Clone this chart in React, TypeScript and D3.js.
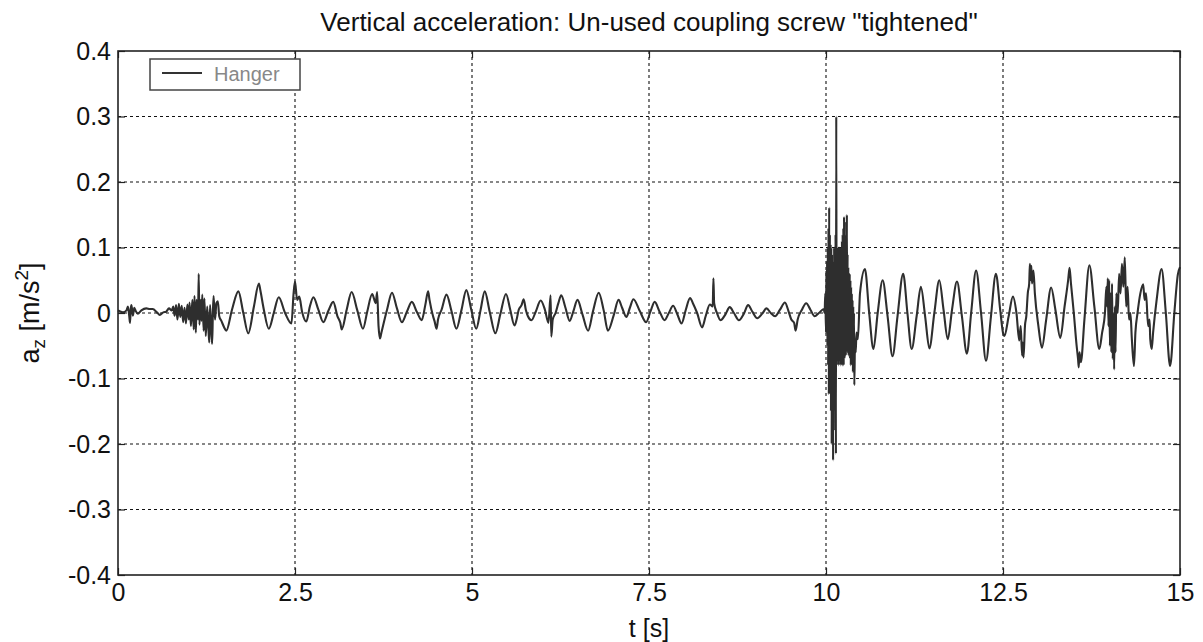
import React, { useRef, useEffect } from 'react'
import * as d3 from 'd3'

// [t (s), a_z (m/s^2)], segment by segment
const quietStart: [number, number][] = [
  [0.0, 0.004], [0.07, 0.001], [0.12, 0.004], [0.14, 0.01], [0.16, -0.006], [0.17, -0.015],
  [0.18, 0.006], [0.19, 0.012], [0.21, -0.004], [0.23, 0.008], [0.25, 0.003], [0.28, -0.001],
  [0.33, 0.004], [0.4, 0.007], [0.45, 0.006], [0.49, 0.006], [0.55, 0.001], [0.59, -0.003],
  [0.64, 0.001], [0.68, 0.002], [0.72, 0.007], [0.76, 0.004],
]

const onsetNoise: [number, number][] = [
  [0.78, 0.01], [0.8, -0.004], [0.82, 0.012], [0.84, -0.01], [0.86, 0.014], [0.88, -0.006],
  [0.9, 0.011], [0.92, -0.014], [0.94, 0.008], [0.96, -0.016], [0.98, 0.013], [1.0, -0.01],
  [1.01, 0.016], [1.03, -0.02], [1.05, 0.02], [1.07, -0.025], [1.08, 0.026], [1.1, -0.03],
  [1.11, 0.02], [1.13, -0.01], [1.14, 0.06], [1.15, -0.018], [1.17, 0.02], [1.18, -0.012],
  [1.19, 0.028], [1.21, -0.027], [1.22, 0.022], [1.24, -0.035], [1.26, 0.01], [1.28, -0.03],
  [1.29, -0.045], [1.3, 0.012], [1.32, -0.03], [1.33, -0.047], [1.34, 0.0], [1.35, 0.026],
  [1.37, -0.01], [1.39, 0.015], [1.41, 0.018], [1.43, -0.005], [1.46, -0.012], [1.5, -0.022],
  [1.53, -0.027],
]

const steadyOscillation: [number, number][] = [
  [1.61, 0.005], [1.7, 0.033], [1.77, 0.0], [1.84, -0.031], [1.92, 0.01], [1.99, 0.045],
  [2.01, 0.035], [2.06, 0.005], [2.13, -0.024], [2.2, 0.0], [2.27, 0.024], [2.36, 0.0],
  [2.45, -0.016], [2.48, 0.03], [2.5, 0.048], [2.53, 0.02], [2.56, 0.025], [2.6, 0.002],
  [2.66, -0.013], [2.71, 0.01], [2.76, 0.024], [2.83, 0.005], [2.9, -0.014], [2.97, 0.003],
  [3.04, 0.017], [3.1, -0.005], [3.14, -0.015], [3.16, -0.025], [3.23, 0.005], [3.3, 0.032],
  [3.38, 0.004], [3.46, -0.024], [3.52, 0.002], [3.59, 0.029], [3.64, 0.015], [3.66, 0.032],
  [3.68, -0.02], [3.7, -0.039], [3.72, -0.03], [3.8, 0.005], [3.87, 0.031], [3.94, 0.007],
  [4.01, -0.014], [4.08, 0.002], [4.15, 0.017], [4.22, 0.002], [4.29, -0.011], [4.34, 0.012],
  [4.38, 0.033], [4.4, 0.02], [4.45, -0.005], [4.47, -0.012], [4.5, -0.024], [4.52, -0.01],
  [4.57, 0.005], [4.64, 0.028], [4.71, 0.003], [4.78, -0.024], [4.85, 0.004], [4.92, 0.035],
  [4.99, 0.005], [5.06, -0.024], [5.12, 0.004], [5.18, 0.033], [5.25, 0.002], [5.33, -0.031],
  [5.4, -0.002], [5.48, 0.029], [5.54, 0.005], [5.6, -0.019], [5.63, -0.01], [5.66, 0.005],
  [5.7, 0.012], [5.73, 0.021], [5.76, 0.005], [5.79, -0.005], [5.84, -0.011], [5.9, 0.002],
  [5.97, 0.019], [6.03, 0.005], [6.08, -0.015], [6.11, 0.027], [6.12, -0.036], [6.14, -0.01],
  [6.18, 0.0], [6.22, 0.015], [6.26, 0.027], [6.32, 0.008], [6.38, -0.012], [6.43, 0.002],
  [6.49, 0.02], [6.56, -0.002], [6.64, -0.027], [6.71, 0.003], [6.79, 0.031], [6.86, 0.004],
  [6.92, -0.027], [7.0, -0.004], [7.07, 0.02], [7.12, 0.008], [7.18, -0.006], [7.23, 0.008],
  [7.28, 0.021], [7.37, 0.003], [7.46, -0.014], [7.52, 0.002], [7.58, 0.017], [7.65, 0.002],
  [7.72, -0.011], [7.78, 0.0], [7.84, 0.011], [7.9, -0.002], [7.96, -0.016], [8.02, 0.005],
  [8.08, 0.023], [8.12, 0.015], [8.18, 0.0], [8.25, -0.022], [8.3, -0.005], [8.36, 0.013],
  [8.4, 0.01], [8.41, 0.053], [8.42, 0.015], [8.46, 0.0], [8.51, -0.011], [8.58, -0.002],
  [8.64, 0.009], [8.7, 0.0], [8.77, -0.011], [8.84, -0.001], [8.9, 0.012], [8.96, 0.002],
  [9.03, -0.008], [9.1, -0.001], [9.16, 0.007], [9.22, 0.0], [9.28, -0.005], [9.35, 0.005],
  [9.42, 0.016], [9.47, 0.003], [9.51, -0.01], [9.55, -0.015], [9.57, -0.027], [9.6, -0.01],
  [9.66, 0.005], [9.72, 0.015], [9.78, 0.005], [9.84, -0.005], [9.9, 0.0], [9.97, 0.006],
]

const impactBurst: [number, number][] = [
  [9.98, 0.0], [9.99, 0.03], [10.0, -0.03], [10.005, 0.065], [10.01, -0.02], [10.015, 0.08],
  [10.02, -0.05], [10.025, 0.1], [10.03, -0.08], [10.035, 0.13], [10.04, -0.124], [10.045, 0.161],
  [10.05, -0.11], [10.055, 0.12], [10.06, -0.124], [10.065, 0.105], [10.07, -0.15], [10.075, 0.1],
  [10.08, -0.2], [10.085, 0.09], [10.09, -0.17], [10.095, 0.08], [10.1, -0.225], [10.105, 0.07],
  [10.11, -0.15], [10.115, 0.1], [10.12, -0.14], [10.125, 0.09], [10.13, -0.18], [10.135, 0.12],
  [10.14, -0.215], [10.145, 0.3], [10.15, -0.08], [10.155, 0.1], [10.16, -0.075], [10.165, 0.09],
  [10.17, -0.07], [10.175, 0.1], [10.18, -0.08], [10.185, 0.095], [10.19, -0.07], [10.195, 0.1],
  [10.2, -0.075], [10.205, 0.09], [10.21, -0.08], [10.215, 0.1], [10.22, -0.07], [10.225, 0.11],
  [10.23, -0.08], [10.235, 0.12], [10.24, -0.075], [10.245, 0.13], [10.25, -0.08], [10.255, 0.147],
  [10.26, -0.07], [10.265, 0.11], [10.27, -0.06], [10.275, 0.12], [10.28, -0.065], [10.285, 0.14],
  [10.29, -0.06], [10.295, 0.15], [10.3, -0.06], [10.305, 0.09], [10.31, -0.05], [10.315, 0.07],
  [10.32, -0.065], [10.325, 0.06], [10.33, -0.06], [10.335, 0.06], [10.34, -0.07], [10.345, 0.05],
  [10.35, -0.08], [10.355, 0.04], [10.36, -0.07], [10.365, 0.03], [10.37, -0.08], [10.375, 0.02],
  [10.38, -0.09], [10.385, 0.01], [10.39, -0.08], [10.395, 0.0], [10.4, -0.11], [10.41, -0.04],
  [10.42, -0.06], [10.43, -0.03],
]

const afterImpact: [number, number][] = [
  [10.45, -0.04], [10.48, 0.03], [10.55, 0.067], [10.61, 0.0], [10.67, -0.055], [10.73, 0.0],
  [10.8, 0.05], [10.87, -0.005], [10.94, -0.066], [11.01, -0.005], [11.09, 0.06], [11.15, 0.0],
  [11.21, -0.055], [11.28, -0.005], [11.34, 0.04], [11.4, -0.005], [11.46, -0.054], [11.53, 0.0],
  [11.6, 0.05], [11.66, 0.005], [11.72, -0.04], [11.78, 0.005], [11.85, 0.048], [11.92, -0.005],
  [11.99, -0.062], [12.05, 0.0], [12.12, 0.065], [12.19, 0.0], [12.26, -0.073], [12.33, -0.005],
  [12.4, 0.06], [12.46, 0.005], [12.5, -0.03], [12.52, -0.035], [12.58, -0.005], [12.64, 0.025],
  [12.69, 0.0], [12.73, -0.042], [12.75, -0.02], [12.77, -0.065], [12.78, -0.045], [12.79, -0.068],
  [12.81, -0.02], [12.83, -0.004], [12.85, 0.03], [12.87, 0.045], [12.88, 0.075], [12.89, 0.05],
  [12.9, 0.072], [12.91, 0.045], [12.93, 0.065], [12.95, 0.03], [13.0, -0.02], [13.05, -0.053],
  [13.11, -0.01], [13.18, 0.039], [13.24, 0.005], [13.31, -0.038], [13.37, 0.01], [13.42, 0.05],
  [13.44, 0.069], [13.46, 0.045], [13.5, 0.0], [13.54, -0.05], [13.56, -0.07], [13.57, -0.083],
  [13.58, -0.06], [13.6, -0.075], [13.65, -0.01], [13.72, 0.073], [13.79, 0.01], [13.86, -0.055],
  [13.9, -0.03], [13.94, 0.0], [13.96, 0.04], [13.97, 0.01], [13.98, 0.053], [13.99, -0.02],
  [14.0, 0.05], [14.01, -0.05], [14.02, 0.03], [14.03, -0.06], [14.04, 0.045], [14.05, -0.07],
  [14.06, 0.0], [14.07, -0.086], [14.08, 0.01], [14.09, -0.06], [14.1, 0.03], [14.12, 0.0],
  [14.14, 0.06], [14.16, 0.03], [14.18, 0.075], [14.2, 0.04], [14.22, 0.085], [14.24, 0.01],
  [14.26, 0.04], [14.28, -0.01], [14.3, 0.0], [14.32, -0.04], [14.35, -0.081], [14.37, -0.03],
  [14.4, 0.0], [14.44, 0.03], [14.48, 0.044], [14.5, 0.02], [14.52, 0.03], [14.55, -0.02],
  [14.57, -0.01], [14.58, -0.04], [14.6, -0.055], [14.62, -0.03], [14.67, 0.02], [14.74, 0.067],
  [14.8, 0.0], [14.86, -0.081], [14.92, 0.0], [14.97, 0.059], [15.0, 0.07],
]

const xTicks = [0, 2.5, 5, 7.5, 10, 12.5, 15]
const yTicks = [-0.4, -0.3, -0.2, -0.1, 0, 0.1, 0.2, 0.3, 0.4]
const seriesName = 'Hanger'
const title = 'Vertical acceleration: Un-used coupling screw "tightened"'

const FONT = '"Liberation Sans", Arial, Helvetica, sans-serif'

export default function App() {
  const svgRef = useRef<SVGSVGElement>(null)

  useEffect(() => {
    const width = 1203
    const height = 642
    const margin = { top: 51, right: 23, bottom: 67, left: 118 }
    const svg = d3.select(svgRef.current)
    svg.selectAll('*').remove()

    const x = d3.scaleLinear().domain([0, 15]).range([margin.left, width - margin.right])
    const y = d3.scaleLinear().domain([-0.4, 0.4]).range([height - margin.bottom, margin.top])
    const pw = width - margin.left - margin.right
    const ph = height - margin.top - margin.bottom

    svg.append('rect').attr('width', width).attr('height', height).attr('fill', '#fff')

    // dotted grid
    const grid = svg.append('g').attr('stroke', '#111').attr('stroke-width', 1.1).attr('stroke-dasharray', '3,3')
    grid.selectAll('.gx').data(xTicks.slice(1, -1)).join('line')
      .attr('x1', d => x(d)).attr('x2', d => x(d)).attr('y1', margin.top).attr('y2', margin.top + ph)
    grid.selectAll('.gy').data(yTicks.slice(1, -1)).join('line')
      .attr('y1', d => y(d)).attr('y2', d => y(d)).attr('x1', margin.left).attr('x2', margin.left + pw)

    // signal
    const data = [...quietStart, ...onsetNoise, ...steadyOscillation, ...impactBurst, ...afterImpact]
    const line = d3.line<[number, number]>().x(d => x(d[0])).y(d => y(d[1])).curve(d3.curveMonotoneX)
    svg.append('path').datum(data).attr('d', line)
      .attr('fill', 'none').attr('stroke', '#2e2e2e').attr('stroke-width', 2.1).attr('stroke-linejoin', 'round')

    // axes with inward ticks
    const fmt = (d: d3.NumberValue) => String(d)
    const gx = svg.append('g').attr('transform', `translate(0,${margin.top + ph})`)
      .call(d3.axisBottom(x).tickValues(xTicks).tickSize(-7).tickPadding(8).tickFormat(fmt))
    const gy = svg.append('g').attr('transform', `translate(${margin.left},0)`)
      .call(d3.axisLeft(y).tickValues(yTicks).tickSize(-7).tickPadding(7).tickFormat(fmt))
    svg.append('g').attr('transform', `translate(0,${margin.top})`)
      .call(d3.axisTop(x).tickValues(xTicks).tickSize(-7).tickFormat(() => ''))
      .select('.domain').remove()
    svg.append('g').attr('transform', `translate(${margin.left + pw},0)`)
      .call(d3.axisRight(y).tickValues(yTicks).tickSize(-7).tickFormat(() => ''))
      .select('.domain').remove()
    for (const g of [gx, gy]) {
      g.select('.domain').remove()
      g.selectAll('text').attr('font-family', FONT).attr('font-size', 25).attr('fill', '#111')
    }
    svg.selectAll('.tick line').attr('stroke', '#222').attr('stroke-width', 1.2)

    svg.append('rect')
      .attr('x', margin.left).attr('y', margin.top).attr('width', pw).attr('height', ph)
      .attr('fill', 'none').attr('stroke', '#222').attr('stroke-width', 1.6)

    // legend
    const lg = svg.append('g')
    lg.append('rect').attr('x', 150).attr('y', 59).attr('width', 150).attr('height', 31)
      .attr('fill', '#fff').attr('stroke', '#444').attr('stroke-width', 1.5)
    lg.append('line').attr('x1', 162).attr('x2', 202).attr('y1', 73).attr('y2', 73)
      .attr('stroke', '#333').attr('stroke-width', 2.2)
    lg.append('text').attr('x', 214).attr('y', 81).text(seriesName)
      .attr('font-family', FONT).attr('font-size', 20).attr('fill', '#888')

    // title and axis labels
    svg.append('text').attr('x', margin.left + pw / 2).attr('y', 31).attr('text-anchor', 'middle')
      .attr('font-family', FONT).attr('font-size', 26).attr('fill', '#111').text(title)
    svg.append('text').attr('x', margin.left + pw / 2).attr('y', 637).attr('text-anchor', 'middle')
      .attr('font-family', FONT).attr('font-size', 25).attr('fill', '#111').text('t [s]')

    const yl = svg.append('text').attr('transform', `translate(39,${margin.top + ph / 2}) rotate(-90)`)
      .attr('text-anchor', 'middle').attr('font-family', FONT).attr('font-size', 27).attr('fill', '#111')
    yl.append('tspan').text('a')
    yl.append('tspan').attr('dy', 6).attr('font-size', 19).text('z')
    yl.append('tspan').attr('dy', -6).text(' [m/s')
    yl.append('tspan').attr('dy', -11).attr('font-size', 19).text('2')
    yl.append('tspan').attr('dy', 11).text(']')
  }, [])

  return (
    <svg
      ref={svgRef}
      width={1203}
      height={642}
      style={{ position: 'absolute', left: 0, top: 0, display: 'block' }}
    />
  )
}
